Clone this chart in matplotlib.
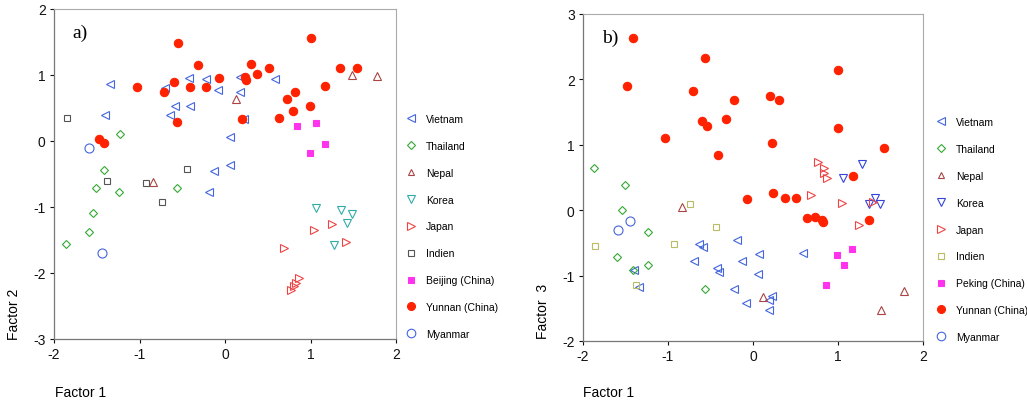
import matplotlib
matplotlib.use("Agg")
import matplotlib.pyplot as plt
from matplotlib.lines import Line2D

W, H = 1027, 406
plt.rcParams['font.family'] = ['Liberation Sans', 'DejaVu Sans']
plt.rcParams['axes.unicode_minus'] = False

# ---------------- data: panel a (Factor 1 vs Factor 2) ----------------
a_vietnam_x = [-1.345, -0.70, -0.42, -0.226, -0.082, 0.175, 0.18, 0.59, -0.59, -0.41, -0.64, -1.40, 0.226, 0.055, 0.062, -0.13, -0.19]
a_vietnam_y = [0.86, 0.80, 0.95, 0.94, 0.78, 0.97, 0.75, 0.94, 0.53, 0.53, 0.40, 0.39, 0.33, 0.06, -0.36, -0.45, -0.78]
a_thailand_x = [-1.23, -1.41, -1.51, -1.24, -0.56, -1.54, -1.59, -1.86]
a_thailand_y = [0.10, -0.44, -0.71, -0.77, -0.71, -1.09, -1.38, -1.56]
a_nepal_x = [0.125, 1.49, 1.78, -0.84]
a_nepal_y = [0.63, 1.00, 0.98, -0.62]
a_korea_x = [1.06, 1.36, 1.49, 1.43, 1.28]
a_korea_y = [-1.02, -1.05, -1.10, -1.24, -1.57]
a_japan_x = [1.255, 1.045, 1.41, 0.687, 0.86, 0.83, 0.81, 0.77]
a_japan_y = [-1.26, -1.35, -1.53, -1.62, -2.08, -2.15, -2.19, -2.26]
a_indien_x = [-1.85, -1.38, -0.92, -0.45, -0.74]
a_indien_y = [0.35, -0.60, -0.64, -0.42, -0.93]
a_beijing_x = [0.846, 1.06, 1.17, 0.99]
a_beijing_y = [0.23, 0.28, -0.05, -0.18]
a_yunnan_x = [-0.546, -0.32, -1.03, -0.71, -0.60, -0.41, -0.22, -0.074, 0.234, 0.245, 0.30, 0.374, 0.51, 1.00, 1.35, 1.54, 1.17, 0.815, 0.72, 0.80, 0.99, 0.63, 0.20, -0.565, -1.47, -1.415]
a_yunnan_y = [1.49, 1.15, 0.82, 0.75, 0.90, 0.82, 0.82, 0.96, 0.97, 0.93, 1.16, 1.02, 1.10, 1.56, 1.11, 1.11, 0.84, 0.74, 0.63, 0.45, 0.53, 0.35, 0.33, 0.29, 0.03, -0.03]
a_myanmar_x = [-1.59, -1.44]
a_myanmar_y = [-0.11, -1.70]

# ---------------- data: panel b (Factor 1 vs Factor 3) ----------------
b_vietnam_x = [-0.19, -0.635, -0.59, -0.69, -0.126, 0.067, 0.59, -0.42, -0.40, 0.055, -1.40, -1.34, -0.224, -0.082, 0.224, 0.185, 0.185]
b_vietnam_y = [-0.45, -0.52, -0.56, -0.78, -0.77, -0.67, -0.66, -0.88, -0.95, -0.98, -0.92, -1.17, -1.20, -1.42, -1.31, -1.38, -1.52]
b_thailand_x = [-1.87, -1.51, -1.54, -1.24, -1.60, -1.235, -1.41, -0.56]
b_thailand_y = [0.64, 0.39, 0.00, -0.34, -0.71, -0.84, -0.92, -1.20]
b_nepal_x = [-0.84, 0.118, 1.78, 1.50]
b_nepal_y = [0.05, -1.32, -1.24, -1.52]
b_korea_x = [1.286, 1.06, 1.43, 1.365, 1.49]
b_korea_y = [0.71, 0.50, 0.19, 0.09, 0.09]
b_japan_x = [0.77, 0.835, 0.835, 0.87, 0.686, 1.05, 1.415, 1.25]
b_japan_y = [0.73, 0.65, 0.57, 0.49, 0.23, 0.11, 0.13, -0.22]
b_indien_x = [-0.74, -0.44, -0.93, -1.855, -1.38]
b_indien_y = [0.09, -0.25, -0.51, -0.55, -1.14]
b_peking_x = [0.99, 1.17, 1.07, 0.855]
b_peking_y = [-0.68, -0.60, -0.84, -1.15]
b_yunnan_x = [-1.415, -1.48, -0.565, -0.71, -0.224, -0.60, -0.545, -0.32, -1.03, -0.41, 0.20, 0.306, 0.227, 0.996, 0.996, 1.54, 1.18, 0.24, 0.376, 0.506, -0.07, 0.63, 0.726, 0.81, 0.82, 1.36]
b_yunnan_y = [2.63, 1.90, 2.32, 1.82, 1.69, 1.37, 1.29, 1.40, 1.11, 0.84, 1.74, 1.68, 1.03, 2.15, 1.25, 0.95, 0.52, 0.26, 0.18, 0.18, 0.17, -0.12, -0.11, -0.15, -0.18, -0.15]
b_myanmar_x = [-1.45, -1.59]
b_myanmar_y = [-0.16, -0.31]

a_labels = ["Vietnam", "Thailand", "Nepal", "Korea", "Japan", "Indien", "Beijing (China)", "Yunnan (China)", "Myanmar"]
b_labels = ["Vietnam", "Thailand", "Nepal", "Korea", "Japan", "Indien", "Peking (China)", "Yunnan (China)", "Myanmar"]

a_series = [(a_vietnam_x, a_vietnam_y), (a_thailand_x, a_thailand_y), (a_nepal_x, a_nepal_y),
            (a_korea_x, a_korea_y), (a_japan_x, a_japan_y), (a_indien_x, a_indien_y),
            (a_beijing_x, a_beijing_y), (a_yunnan_x, a_yunnan_y), (a_myanmar_x, a_myanmar_y)]
b_series = [(b_vietnam_x, b_vietnam_y), (b_thailand_x, b_thailand_y), (b_nepal_x, b_nepal_y),
            (b_korea_x, b_korea_y), (b_japan_x, b_japan_y), (b_indien_x, b_indien_y),
            (b_peking_x, b_peking_y), (b_yunnan_x, b_yunnan_y), (b_myanmar_x, b_myanmar_y)]

markers = ['<', 'D', '^', 'v', '>', 's', 's', 'o', 'o']
filled = [False, False, False, False, False, False, True, True, False]
msizes = [5.5, 4.3, 5.2, 5.5, 5.5, 4.5, 4.5, 6.0, 6.5]
a_colors = ['#4466dd', '#33aa33', '#aa4444', '#33aaaa', '#ee4444', '#555555', '#ff33ee', '#ff2200', '#4466dd']
b_colors = ['#4466dd', '#33aa33', '#aa4444', '#3344dd', '#ee4444', '#bbbb66', '#ff33ee', '#ff2200', '#4466dd']

fig = plt.figure(figsize=(W / 100, H / 100), dpi=100)


def px_axes(l, t, r, b):
    return fig.add_axes([l / W, 1 - b / H, (r - l) / W, (b - t) / H])


def draw_panel(ax, series, colors, ylim, yticks, tag):
    for (xs, ys), m, f, ms, c in zip(series, markers, filled, msizes, colors):
        ax.plot(xs, ys, linestyle='none', marker=m, markersize=ms,
                markerfacecolor=c if f else 'none', markeredgecolor=c,
                markeredgewidth=0.8)
    ax.set_xlim(-2, 2)
    ax.set_ylim(*ylim)
    ax.set_xticks([-2, -1, 0, 1, 2])
    ax.set_xticklabels(['-2', '-1', '0', '1', '2'])
    ax.set_yticks(yticks)
    ax.set_yticklabels([str(v) for v in yticks])
    ax.tick_params(direction='out', length=3, width=0.8, labelsize=10, colors='#111111', pad=3)
    for side in ['left', 'bottom']:
        ax.spines[side].set_color('#777777')
        ax.spines[side].set_linewidth(0.9)
    for side in ['top', 'right']:
        ax.spines[side].set_color('#aaaaaa')
        ax.spines[side].set_linewidth(0.8)
    ax.text(0.055, 0.955, tag, transform=ax.transAxes, ha='left', va='top',
            fontsize=14, family=['Liberation Serif', 'DejaVu Serif'])


def draw_legend(ax, colors, labels, x_px, y_px):
    handles = []
    for m, f, ms, c in zip(markers, filled, msizes, colors):
        handles.append(Line2D([], [], linestyle='none', marker=m, markersize=ms * 0.95,
                              markerfacecolor=c if f else 'none', markeredgecolor=c,
                              markeredgewidth=0.8))
    ax.legend(handles, labels, loc='upper left', bbox_to_anchor=(x_px / W, 1 - y_px / H),
              bbox_transform=fig.transFigure, frameon=False, fontsize=7.5,
              labelspacing=1.62, handlelength=0.9, handletextpad=1.0,
              borderpad=0, borderaxespad=0)


ax1 = px_axes(54, 10, 396, 340)
draw_panel(ax1, a_series, a_colors, (-3, 2), [-3, -2, -1, 0, 1, 2], 'a)')
draw_legend(ax1, a_colors, a_labels, 406, 115)

ax2 = px_axes(583, 15, 923, 342)
draw_panel(ax2, b_series, b_colors, (-2, 3), [-2, -1, 0, 1, 2, 3], 'b)')
draw_legend(ax2, b_colors, b_labels, 936, 118)

fig.text(14 / W, 1 - 314 / H, 'Factor 2', rotation=90, ha='center', va='center', fontsize=10)
fig.text(55 / W, 1 - 393 / H, 'Factor 1', ha='left', va='center', fontsize=10)
fig.text(543 / W, 1 - 311 / H, 'Factor  3', rotation=90, ha='center', va='center', fontsize=10)
fig.text(583 / W, 1 - 393 / H, 'Factor 1', ha='left', va='center', fontsize=10)

fig.savefig('out.png', dpi=100, facecolor='white')
